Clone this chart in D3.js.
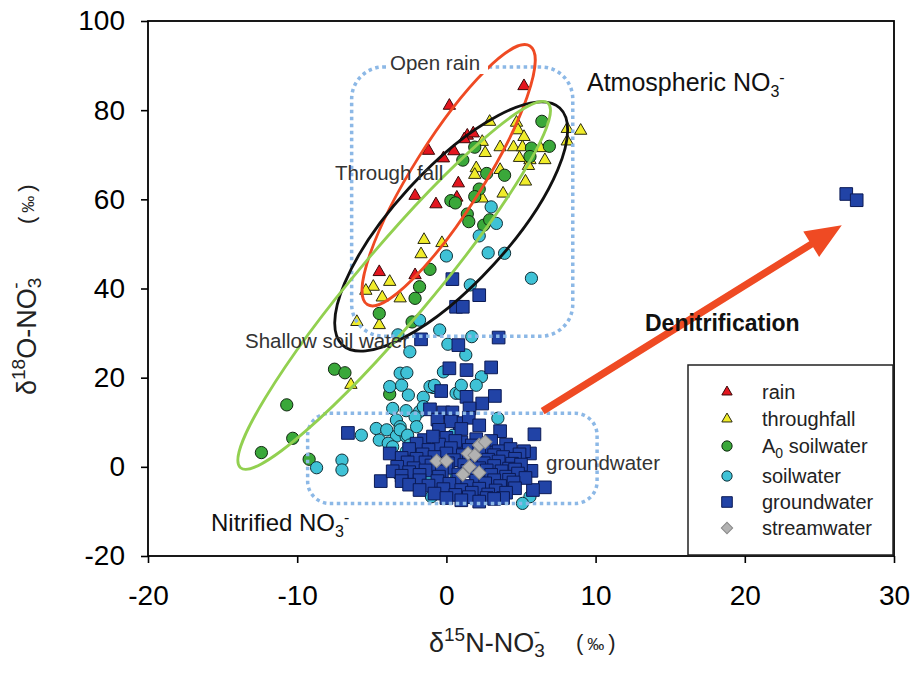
<!DOCTYPE html>
<html><head><meta charset="utf-8">
<script src="https://cdn.jsdelivr.net/npm/d3@7"></script>
<style>body{margin:0;background:#fff;} text{font-family:Arial,"Liberation Sans",sans-serif;}</style>
</head><body><svg id="c" width="911" height="677"></svg>
<script>
const xTicks=[-20,-10,0,10,20,30];
const yTicks=[-20,0,20,40,60,80,100];
const seriesNames=["rain","throughfall","A0 soilwater","soilwater","groundwater","streamwater"];

const rain=[[5.2,85.4],[0.2,81],[1.4,74.3],[1.8,74.8],[1.2,73.5],[-1.2,70.9],[0.5,70.8],[-0.2,69.2],[0.8,63.6],[-2.1,60.8],[-0.7,58.9],[0.7,60.4],[-4.5,43.7],[-2.1,43]];

const throughfall=[[2.9,77.4],[4.7,77.2],[4.8,75.5],[5.2,74],[2.4,72.9],[3.6,71.7],[4.5,71.7],[5.1,71.7],[6.3,71.5],[2.6,70.4],[4.9,69.3],[5.6,68.8],[6.6,68.8],[5.5,67.5],[2.0,67],[1.9,65.5],[3.6,66.6],[5.3,64],[3.8,61.3],[2.4,60.2],[8.1,75.8],[9.0,75.4],[8.1,73],[-1.5,50.9],[-0.3,50.2],[-1.7,47.7],[-3.8,41.5],[-4.9,40.4],[-5.4,39.5],[-4.3,38],[-3.1,37.8],[-6.0,32.5],[-4.5,31.8],[-6.4,18.4]];

const a0soil=[[6.4,77.5],[1.9,71.7],[1.1,68.8],[2.7,65.8],[3.9,65.4],[2.2,62.3],[1.9,60.6],[0.3,59.7],[0.6,59.2],[1.4,56.7],[1.5,55],[2.5,54.2],[2.9,55.4],[5.7,71.5],[5.6,69.6],[6.9,71.9],[-1.1,44.3],[-1.8,40.4],[-2.1,37.8],[-4.5,34.4],[-2.3,32.5],[-7.5,21.9],[-6.8,21.1],[-10.7,13.9],[-10.3,6.4],[-12.4,3.2],[-9.2,1.7],[-3.8,16.3]];

const soilwater=[[3.0,58.3],[3.35,54.6],[2.2,51.8],[2.8,48],[3.9,47.9],[5.7,42.3],[0,47.3],[1.6,40.8],[-1.8,32.9],[-0.45,30.7],[1.7,29.2],[-3.25,29.6],[-2.45,25.8],[0.1,27.5],[1.3,25.1],[-0.2,21.3],[-3.1,21],[-2.65,21.1],[2.35,20.2],[-3.8,18],[-0.9,17.8],[-2.55,16.1],[-1.55,15.6],[0.65,16.5],[-3.6,13.1],[-2.7,12.6],[-1.8,12.4],[-2.1,11.2],[-3.35,10.5],[-2.0,9.0],[-4.7,8.6],[-4.0,8.3],[-3.35,6.9],[-3.1,9.0],[-2.7,6.8],[-5.7,7.1],[-4.5,6.0],[-3.9,5.3],[-2.7,3.4],[-7.0,1.5],[-7.0,-0.7],[-8.7,-0.2],[-3.25,-1.5],[-2.2,-3.3],[-1.0,-6.7],[3.45,10.9],[5.6,-6.7],[0.45,7.1],[-3.0,18.3],[-1.1,18],[-0.8,18.3],[0.9,16.5],[1.0,18.3],[2.0,18.3],[-1.55,13.5],[-3.1,8.3],[-2.6,7.1],[-3.6,4.5],[-2.45,4.9],[-1.8,4.1],[-1.7,0.4],[-1.1,-2.2],[-0.2,-4.5],[-1.1,-3.0],[0.45,-5.2],[0.65,-1.8],[5.1,-8.2]];

const groundwater=[[0.4,42.1],[2.2,38.5],[0.65,35.9],[1.1,35.9],[-1.7,28.6],[3.5,29],[0.8,27.3],[0.2,22.1],[1.35,21.7],[3.0,22.3],[-0.35,17],[1.35,15.7],[3.25,15.9],[2.4,14.2],[-1.1,12.9],[-0.2,12.2],[0.4,12.2],[1.55,13.1],[-0.6,10.6],[0.9,9.8],[-6.6,7.6],[5.9,7.3],[-4.4,-3.2],[5.7,-0.9],[6.6,-4.6],[5.8,-5.2],[5.6,3.0],[26.8,61.2],[27.5,59.8],
[0.3,10.2],[1.5,11],[-0.5,8.3],[1,8.5],[2.2,9.3],[3.6,8],
[-1.5,6],[0,6.5],[1,5.5],[2,6.2],[3,5.8],[-0.5,5],
[-2,5.2],[-0.9,6.8],[0.6,5.8],[1.7,4.8],[2.9,3.2],[4,5],
[-2.5,4],[-1.2,3.8],[0.3,4.2],[1.5,3.8],[2.5,4.5],[3.5,3.5],[4.3,4],[5.2,3.5],
[-3.8,3],[-1.6,2.8],[0,3],[1.1,2.6],[2.2,3.6],[3.2,2.6],[4.9,2.8],
[-3,2],[-2,1.8],[-0.8,2.2],[0.5,1.5],[1.8,2],[2.8,1.6],[3.8,2.2],[4.6,1.8],
[-2.6,1],[-1.4,1],[0.1,0.8],[1.5,1.2],[2.5,0.8],[3.5,1.2],[4.4,0.7],
[-3.3,0],[-2.2,-0.3],[-1,0.3],[0,-0.2],[1.2,0.4],[2.2,-0.3],[3.2,0.2],[4.2,-0.4],[5,0.5],
[-3.6,-1],[-2.5,-1.2],[-1.4,-0.8],[-0.3,-1],[1.4,-0.9],[2.7,-0.8],[3.7,-1],[4.6,-0.6],
[-3,-2],[-1.8,-1.8],[-0.5,-2.2],[0.8,-1.7],[2,-2.3],[3,-1.8],[4,-2.2],[4.8,-1.5],
[-3,-3.2],[-1.8,-3],[-0.6,-3.2],[0.8,-2.9],[2,-3.1],[3.2,-3],[4.2,-2.9],[5.3,-2.5],
[-2.5,-4],[-1.2,-4.2],[0.2,-3.8],[1.4,-4.3],[2.6,-3.7],[3.6,-4.3],[4.5,-3.5],
[-1.8,-5.2],[-0.2,-5],[1,-5.2],[2.2,-4.9],[3.3,-5.3],[4.6,-4.8],
[-0.8,-6],[0.6,-6.3],[1.7,-5.8],[2.8,-6.2],[4,-5.8],
[0,-7],[1.5,-6.8],[2.7,-7],[3.8,-7],
[1,-7.5],[2.2,-7.8],[3.2,-7.2]];

const streamwater=[[-0.65,1.3],[0,1.3],[1.45,3.0],[2.2,4.9],[2.6,5.6],[1.9,2.6],[1.55,0],[2.2,-1.3],[1.1,-1.7]];

// ellipses: centre and major-axis tip in data units
const ellipseNames=["Open rain","Through fall","Shallow soil water"];
const ellipseCentres=[[0.15,65.4],[0.32,53.9],[-3.5,40.7]];
const ellipseTips=[[5.6,94.4],[7.6,80.5],[6.8,81.6]];
// dotted boxes [x0,x1,y0,y1] in data units
const boxAtmos=[-6.35,8.47,29.3,89.7];
const boxGround=[-9.3,10.1,-8.2,12.0];
// denitrification arrow [start, tip]
const arrowPts=[[6.45,12.5],[26.5,54.2]];

const svg=d3.select('#c');
const x=d3.scaleLinear().domain([-20,30]).range([148,894]);
const y=d3.scaleLinear().domain([-20,100]).range([556,21]);

svg.append('rect').attr('width',911).attr('height',677).attr('fill','#fff');

// axes
const ax=svg.append('g').attr('transform','translate(0,556)')
  .call(d3.axisBottom(x).tickValues(xTicks).tickSize(7).tickPadding(22).tickFormat(d3.format('d')));
const ay=svg.append('g').attr('transform','translate(148,0)')
  .call(d3.axisLeft(y).tickValues(yTicks).tickSize(7).tickPadding(16).tickFormat(d3.format('d')));
[ax,ay].forEach(g=>{
  g.select('.domain').remove();
  g.selectAll('line').attr('stroke','#000').attr('stroke-width',1.6);
  g.selectAll('text').attr('font-size',28).attr('fill','#000').attr('font-family','Arial,"Liberation Sans",sans-serif');
});
ay.selectAll('text').text(d=>d<0?'-'+Math.abs(d):d);
ax.selectAll('text').text(d=>d<0?'-'+Math.abs(d):d);

svg.append('rect').attr('x',x(-20)).attr('y',y(100)).attr('width',x(30)-x(-20)).attr('height',y(-20)-y(100))
  .attr('fill','none').attr('stroke','#000').attr('stroke-width',1.8);

// points
const styles=[
 {data:rain,type:'tri',fill:'#e3161f',stroke:'#3a0808'},
 {data:throughfall,type:'tri',fill:'#f0ec2a',stroke:'#2a2a10'},
 {data:a0soil,type:'circ',fill:'#3aa83a',stroke:'#102810'},
 {data:soilwater,type:'circ',fill:'#3fc2d6',stroke:'#103038'},
 {data:groundwater,type:'sq',fill:'#2143a6',stroke:'#0b1a55'},
 {data:streamwater,type:'dia',fill:'#b2b2b2',stroke:'#8a8a8a'}
];
function symPath(type,scale){
  if(type==='tri') return d3.symbol(d3.symbolTriangle, 66*scale)();
  if(type==='circ') return d3.symbol(d3.symbolCircle, 118*scale)();
  if(type==='sq') return d3.symbol(d3.symbolSquare, 160*scale)();
  return d3.symbol(d3.symbolSquare, 92*scale)();
}
styles.forEach(s=>{
  svg.append('g').selectAll('path').data(s.data).join('path')
    .attr('d',symPath(s.type,1))
    .attr('transform',d=>`translate(${x(d[0])},${y(d[1])})`+(s.type==='dia'?' rotate(45)':''))
    .attr('fill',s.fill).attr('stroke',s.stroke).attr('stroke-width',1);
});

// dotted rounded boxes
function box(b,r){
  svg.append('rect').attr('x',x(b[0])).attr('y',y(b[3])).attr('width',x(b[1])-x(b[0])).attr('height',y(b[2])-y(b[3]))
    .attr('rx',r).attr('ry',r).attr('fill','none').attr('stroke','#8cb8e6').attr('stroke-width',3.5).attr('stroke-dasharray','3.5,3.5');
}
box(boxAtmos,32);
box(boxGround,22);

// ellipses
const ellColors=['#ef4a23','#111','#92d050'];
const ellMinor=[35,57,37];
ellipseCentres.forEach((c,i)=>{
  const cx=x(c[0]),cy=y(c[1]),tx=x(ellipseTips[i][0]),ty=y(ellipseTips[i][1]);
  const a=Math.hypot(tx-cx,ty-cy),ang=Math.atan2(ty-cy,tx-cx)*180/Math.PI;
  svg.append('ellipse').attr('cx',cx).attr('cy',cy).attr('rx',a).attr('ry',ellMinor[i])
    .attr('transform',`rotate(${ang},${cx},${cy})`).attr('fill','none').attr('stroke',ellColors[i]).attr('stroke-width',2.8);
});

// arrow
(function(){
  const x0=x(arrowPts[0][0]),y0=y(arrowPts[0][1]),x1=x(arrowPts[1][0]),y1=y(arrowPts[1][1]);
  const L=Math.hypot(x1-x0,y1-y0),ux=(x1-x0)/L,uy=(y1-y0)/L,nx=-uy,ny=ux;
  const hl=36,hw=15,sw=3.6;
  const bx=x1-ux*hl,by=y1-uy*hl;
  const pts=[[x0+nx*sw,y0+ny*sw],[bx+nx*sw,by+ny*sw],[bx+nx*hw,by+ny*hw],[x1,y1],[bx-nx*hw,by-ny*hw],[bx-nx*sw,by-ny*sw],[x0-nx*sw,y0-ny*sw]];
  svg.append('path').attr('d','M'+pts.map(p=>p.join(',')).join('L')+'Z').attr('fill','#ef4a23');
})();

// annotations
function label(txt,px,py,size,opts={}){
  const t=svg.append('text').attr('x',px).attr('y',py).attr('font-size',size).attr('fill',opts.fill||'#333')
    .attr('font-weight',opts.weight||'normal').text(txt);
  return t;
}
svg.append('rect').attr('x',386).attr('y',50).attr('width',102).attr('height',24).attr('fill','#fff');
label('Open rain',390,70,20.5);
label('Through fall',335,180,20.5);
label('Shallow soil water',245,348,20.5);
label('groundwater',546,470,20.5);
label('Denitrification',645,331,23,{weight:'bold',fill:'#111'});
const atm=label('Atmospheric NO',587,91,25,{fill:'#111'});
atm.append('tspan').attr('font-size',16).attr('dy',6).text('3');
atm.append('tspan').attr('font-size',16).attr('dy',-14).text('-');
const nit=label('Nitrified NO',211,531,24,{fill:'#111'});
nit.append('tspan').attr('font-size',16).attr('dy',6).text('3');
nit.append('tspan').attr('font-size',16).attr('dy',-14).text('-');

// axis titles
function permil(g){
  g.append('tspan').attr('font-size',22).text('(');
  g.append('tspan').attr('font-size',17).attr('dx',4).text('‰');
  g.append('tspan').attr('font-size',22).attr('dx',4).text(')');
}
const xt=svg.append('text').attr('x',429).attr('y',652).attr('font-size',27).attr('fill','#222');
xt.append('tspan').text('δ');
xt.append('tspan').attr('font-size',19).attr('dy',-11).text('15');
xt.append('tspan').attr('dy',11).text('N-NO');
xt.append('tspan').attr('font-size',19).attr('dy',5).text('3');
xt.append('tspan').attr('font-size',19).attr('dx',-11).attr('dy',-19).text('-');
permil(svg.append('text').attr('x',576).attr('y',650).attr('fill','#222'));

const yt=svg.append('text').attr('transform','translate(36,395) rotate(-90)').attr('font-size',27).attr('fill','#222');
yt.append('tspan').text('δ');
yt.append('tspan').attr('font-size',19).attr('dy',-11).text('18');
yt.append('tspan').attr('dy',11).text('O-NO');
yt.append('tspan').attr('font-size',19).attr('dy',5).text('3');
yt.append('tspan').attr('font-size',19).attr('dx',-11).attr('dy',-19).text('-');
permil(svg.append('text').attr('transform','translate(34,224) rotate(-90)').attr('fill','#222'));

// legend
const lg=svg.append('g');
lg.append('rect').attr('x',688).attr('y',365).attr('width',205).attr('height',190).attr('fill','#fff').attr('stroke','#222').attr('stroke-width',1.5);
const rowsY=[392,419,446,476,502,528];
styles.forEach((s,i)=>{
  lg.append('path').attr('d',symPath(s.type,0.7))
    .attr('transform',`translate(727,${rowsY[i]})`+(s.type==='dia'?' rotate(45)':''))
    .attr('fill',s.fill).attr('stroke',s.stroke).attr('stroke-width',1);
  const t=lg.append('text').attr('x',762).attr('y',rowsY[i]+7).attr('font-size',20).attr('fill','#222');
  if(i===2){
    t.append('tspan').text('A');
    t.append('tspan').attr('font-size',14).attr('dy',5).text('0');
    t.append('tspan').attr('dy',-5).text(' soilwater');
  } else t.text(seriesNames[i]);
});
</script></body></html>
